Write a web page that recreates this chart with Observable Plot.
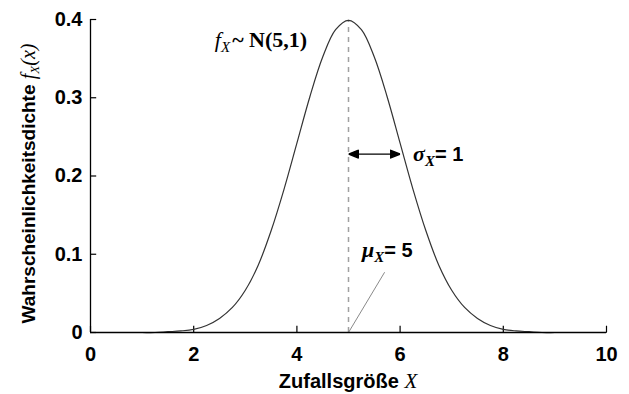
<!DOCTYPE html>
<html>
<head>
<meta charset="utf-8">
<script src="https://cdn.jsdelivr.net/npm/d3@7"></script>
<script src="https://cdn.jsdelivr.net/npm/@observablehq/plot@0.6"></script>
<style>
  html, body { margin: 0; padding: 0; background: #fff; }
  #chart svg { display: block; }
</style>
</head>
<body>
<div id="chart"></div>
<script>
// Density of X ~ N(5,1), sampled every 0.25
const xValues = [0, 0.25, 0.5, 0.75, 1, 1.25, 1.5, 1.75, 2, 2.25, 2.5, 2.75, 3, 3.25, 3.5, 3.75, 4, 4.25, 4.5, 4.75,
                 5, 5.25, 5.5, 5.75, 6, 6.25, 6.5, 6.75, 7, 7.25, 7.5, 7.75, 8, 8.25, 8.5, 8.75, 9, 9.25, 9.5, 9.75, 10];
const densityValues = [0.000, 0.000, 0.000, 0.000, 0.000, 0.000, 0.001, 0.002, 0.004, 0.009, 0.018, 0.032, 0.054, 0.086, 0.130, 0.183, 0.242, 0.301, 0.352, 0.387,
                       0.399, 0.387, 0.352, 0.301, 0.242, 0.183, 0.130, 0.086, 0.054, 0.032, 0.018, 0.009, 0.004, 0.002, 0.001, 0.000, 0.000, 0.000, 0.000, 0.000, 0.000];
const mu = 5;
const sigma = 1;
const peakDensity = 0.399;

const xTicks = [0, 2, 4, 6, 8, 10];
const xTickLabels = ["0", "2", "4", "6", "8", "10"];
const yTicks = [0, 0.1, 0.2, 0.3, 0.4];
const yTickLabels = ["0", "0.1", "0.2", "0.3", "0.4"];

// inward tick lengths, in data units of the perpendicular axis
const xTickLength = 0.008;
const yTickLength = 0.12;

// annotation anchors (data units)
const sigmaArrowY = 0.228;
const muLeaderEnd = {x: 5.7, y: 0.077};
const fLabelPos = {x: 2.42, y: 0.364};
const sigmaLabelPos = {x: 6.26, y: 0.218};
const muLabelPos = {x: 5.27, y: 0.096};

const curveData = xValues.map((x, i) => ({x, y: densityValues[i]}));

const SANS = "'Liberation Sans', Arial, sans-serif";
const SERIF = "'Liberation Serif', 'Times New Roman', serif";

// filled triangular arrow head
function filledHead(color) {
  const ns = "http://www.w3.org/2000/svg";
  const m = document.createElementNS(ns, "marker");
  m.setAttribute("viewBox", "-10 -5 10 10");
  m.setAttribute("markerWidth", 10);
  m.setAttribute("markerHeight", 10);
  m.setAttribute("markerUnits", "userSpaceOnUse");
  m.setAttribute("orient", "auto-start-reverse");
  const p = document.createElementNS(ns, "path");
  p.setAttribute("d", "M-10,-4L0,0L-10,4Z");
  p.setAttribute("fill", color || "black");
  m.appendChild(p);
  return m;
}

const plot = Plot.plot({
  width: 629,
  height: 394,
  marginLeft: 90,
  marginRight: 23,
  marginTop: 19,
  marginBottom: 62,
  style: {fontFamily: SANS, background: "#fff"},
  x: {domain: [0, 10]},
  y: {domain: [0, 0.4]},
  marks: [
    Plot.axisX({
      ticks: xTicks, tickFormat: (d) => xTickLabels[xTicks.indexOf(d)],
      tickSize: 0, tickPadding: 14, label: null,
      fontSize: 20, fontWeight: "bold", fill: "black"
    }),
    Plot.axisY({
      ticks: yTicks, tickFormat: (d) => yTickLabels[yTicks.indexOf(d)],
      tickSize: 0, tickPadding: 8, label: null,
      fontSize: 20, fontWeight: "bold", fill: "black"
    }),
    // inward tick marks
    Plot.ruleX(xTicks, {y1: 0, y2: xTickLength, stroke: "black", strokeWidth: 1.2}),
    Plot.ruleY(yTicks, {x1: 0, x2: yTickLength, stroke: "black", strokeWidth: 1.2}),
    Plot.ruleX([mu], {y1: 0, y2: peakDensity, stroke: "#a0a0a0", strokeWidth: 1.5, strokeDasharray: "5,5"}),
    Plot.link([{x1: mu, y1: 0, x2: muLeaderEnd.x, y2: muLeaderEnd.y}],
      {x1: "x1", y1: "y1", x2: "x2", y2: "y2", stroke: "#8a8a8a", strokeWidth: 1}),
    Plot.line(curveData, {x: "x", y: "y", curve: "catmull-rom", stroke: "#333", strokeWidth: 1.2}),
    Plot.link([{x1: mu, x2: mu + sigma, y: sigmaArrowY}],
      {x1: "x1", x2: "x2", y1: "y", y2: "y", stroke: "black", strokeWidth: 1.4,
       markerStart: filledHead, markerEnd: filledHead}),
    Plot.ruleY([0], {stroke: "black", strokeWidth: 1.3}),
    Plot.ruleX([0], {stroke: "black", strokeWidth: 1.3})
  ]
});

document.getElementById("chart").appendChild(plot);

const sx = plot.scale("x");
const sy = plot.scale("y");
const svg = d3.select(plot);

function addRich(g, parts) {
  for (const p of parts) {
    const t = g.append("tspan").text(p.text);
    if (p.font) t.attr("font-family", p.font);
    if (p.style) t.attr("font-style", p.style);
    if (p.weight) t.attr("font-weight", p.weight);
    if (p.size) t.attr("font-size", p.size);
    if (p.dy) t.attr("dy", p.dy);
    if (p.dx) t.attr("dx", p.dx);
  }
}

// f_X ~ N(5,1)
addRich(
  svg.append("text").attr("x", sx.apply(fLabelPos.x)).attr("y", sy.apply(fLabelPos.y))
    .attr("text-anchor", "start").attr("font-size", 22).attr("fill", "black"),
  [
    {text: "f", font: SERIF, style: "italic"},
    {text: "X", font: SERIF, style: "italic", size: 15, dy: 5},
    {text: "~ N(5,1)", font: SERIF, weight: "bold", dy: -5, dx: 2}
  ]
);

// sigma label
addRich(
  svg.append("text").attr("x", sx.apply(sigmaLabelPos.x)).attr("y", sy.apply(sigmaLabelPos.y))
    .attr("text-anchor", "start").attr("font-size", 20).attr("fill", "black"),
  [
    {text: "σ", font: SERIF, style: "italic", weight: "bold", size: 22},
    {text: "X", font: SERIF, style: "italic", weight: "bold", size: 15, dy: 5},
    {text: "= 1", font: SANS, weight: "bold", dy: -5}
  ]
);

// mu label
addRich(
  svg.append("text").attr("x", sx.apply(muLabelPos.x)).attr("y", sy.apply(muLabelPos.y))
    .attr("text-anchor", "start").attr("font-size", 20).attr("fill", "black"),
  [
    {text: "μ", font: SERIF, style: "italic", weight: "bold", size: 22},
    {text: "X", font: SERIF, style: "italic", weight: "bold", size: 15, dy: 5},
    {text: "= 5", font: SANS, weight: "bold", dy: -5}
  ]
);

// x axis title
addRich(
  svg.append("text").attr("x", 348).attr("y", 388).attr("text-anchor", "middle")
    .attr("font-size", 20).attr("fill", "black"),
  [
    {text: "Zufallsgröße ", font: SANS, weight: "bold"},
    {text: "X", font: SERIF, style: "italic", size: 21}
  ]
);

// y axis title
addRich(
  svg.append("text").attr("transform", "translate(35,183.5) rotate(-90)").attr("text-anchor", "middle")
    .attr("font-size", 19).attr("fill", "black"),
  [
    {text: "Wahrscheinlichkeitsdichte ", font: SANS, weight: "bold"},
    {text: "f", font: SERIF, style: "italic", size: 20},
    {text: "X", font: SERIF, style: "italic", size: 13, dy: 4},
    {text: "(x)", font: SERIF, style: "italic", size: 20, dy: -4}
  ]
);
</script>
</body>
</html>
